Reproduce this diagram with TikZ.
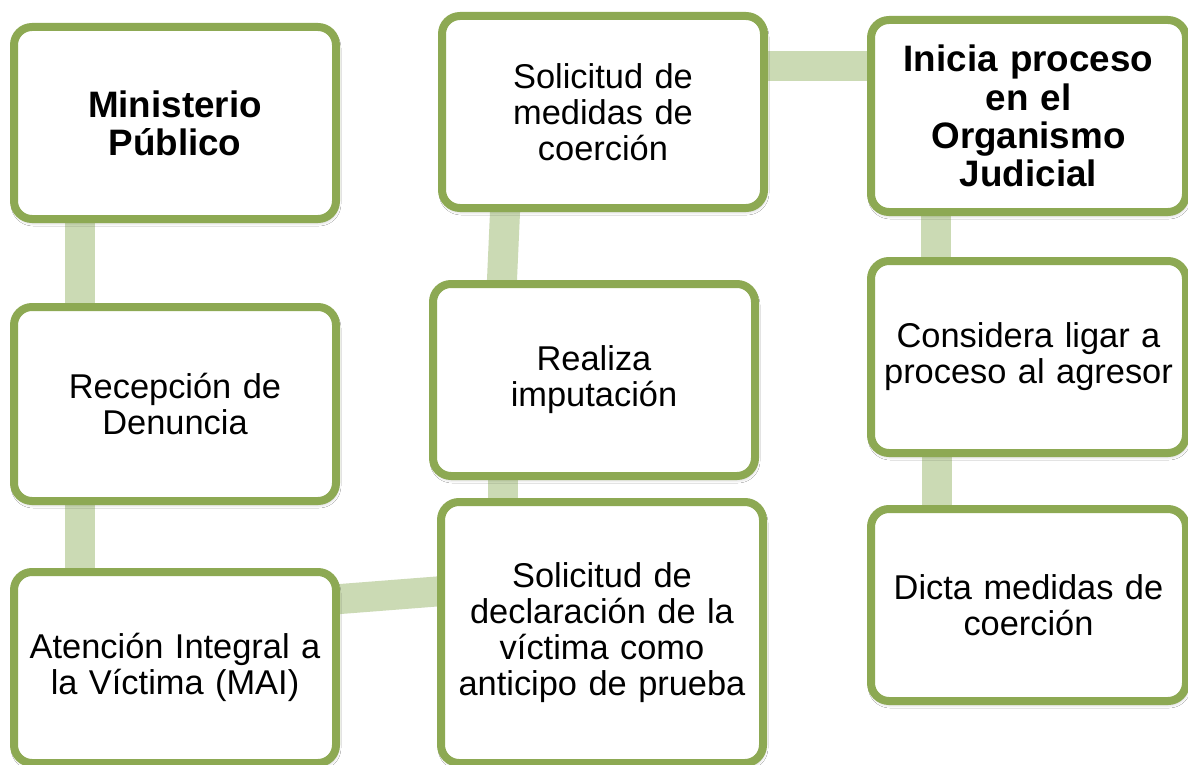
\documentclass[tikz,border=0pt]{standalone}
\usepackage{fontspec}
\setmainfont{Liberation Sans}
\usetikzlibrary{calc,shadows.blur,backgrounds}
\definecolor{boxgreen}{RGB}{141,169,83}
\definecolor{linkgreen}{RGB}{203,218,180}
\tikzset{
  stepbox/.style={draw=boxgreen, line width=8pt, rounded corners=18pt, fill=white,
    minimum width=322pt, minimum height=192pt, inner sep=0pt, text width=310pt,
    align=center, font=\fontsize{34.4}{36}\selectfont,
    blur shadow={shadow xshift=1pt, shadow yshift=-3pt, shadow blur radius=4pt, shadow opacity=30}},
  headbox/.style={stepbox, font=\fontsize{36.8}{38.2}\selectfont\bfseries},
  link/.style={draw=linkgreen, line width=30pt}
}
\begin{document}
\begin{tikzpicture}[x=1pt,y=-1pt]
\useasboundingbox (0,0) rectangle (1188,765);
% nodes
\node[headbox] (b1) at (175,123) {Ministerio\\Público};
\node[stepbox, minimum height=194pt] (b2) at (175,404) {Recepción de\\Denuncia};
\node[stepbox, minimum height=191pt] (b3) at (175,667.5) {Atención Integral a\\la Víctima (MAI)};
\node[stepbox] (b4) at (603,112) {Solicitud de\\medidas de\\coerción};
\node[stepbox] (b5) at (594,380) {Realiza\\imputación};
\node[stepbox, minimum height=261pt] (b6) at (602,632.5) {Solicitud de\\declaración de la\\víctima como\\anticipo de prueba};
\node[headbox, minimum width=315pt] (b7) at (1028.5,116) {Inicia proceso\\en el\\Organismo\\Judicial};
\node[stepbox, minimum width=315pt] (b8) at (1028.5,357) {Considera ligar a\\proceso al agresor};
\node[stepbox, minimum width=315pt] (b9) at (1028.5,605) {Dicta medidas de\\coerción};
% connectors (behind boxes)
\begin{pgfonlayer}{background}
\fill[white] (0,0) rectangle (1188,765);
\draw[link] ($(b1.south)+(-95,-4)$) -- ($(b2.north)+(-95,4)$);
\draw[link] ($(b2.south)+(-95,-4)$) -- ($(b3.north)+(-95,4)$);
\draw[link] ($(b3.east)+(-10,-67.7)$) -- ($(b6.west)+(10,-41.8)$);
\draw[link] ($(b6.north)+(-99,4)$) -- ($(b5.south)+(-91,-4)$);
\draw[link] ($(b5.north)+(-92.2,4)$) -- ($(b4.south)+(-97.8,-4)$);
\draw[link] ($(b4.east)+(-4,-46)$) -- ($(b7.west)+(4,-50)$);
\draw[link] ($(b7.south)+(-92.5,-4)$) -- ($(b8.north)+(-92.5,4)$);
\draw[link] ($(b8.south)+(-91.5,-4)$) -- ($(b9.north)+(-91.5,4)$);
\end{pgfonlayer}
\end{tikzpicture}
\end{document}
